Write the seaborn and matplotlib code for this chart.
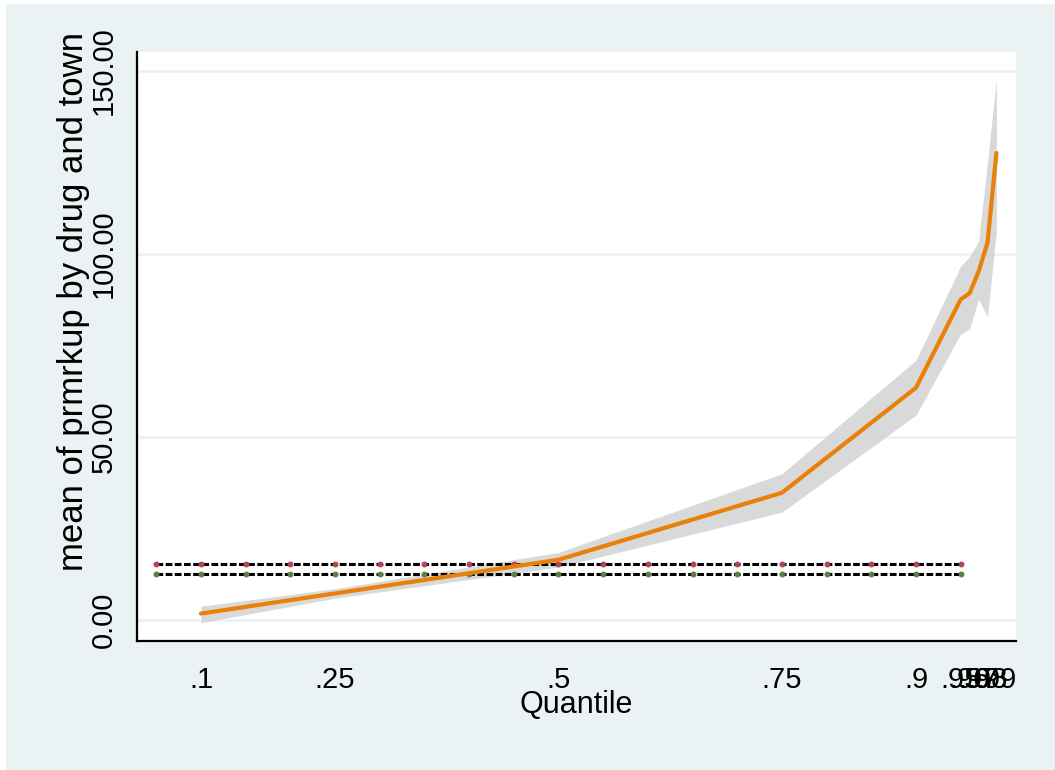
import matplotlib
matplotlib.use("Agg")
import matplotlib.pyplot as plt
from matplotlib.patches import Rectangle
import seaborn as sns
import pandas as pd

# quantile regression coefficients
quantiles = [0.10, 0.25, 0.50, 0.75, 0.90, 0.95, 0.96, 0.97, 0.98, 0.99]
coef = [1.8, 7.3, 16.5, 34.8, 63.5, 87.6, 89.3, 95.2, 103.1, 127.6]
ci_low = [-0.7, 6.0, 14.5, 29.5, 56.0, 78.2, 79.5, 87.7, 82.8, 106.5]
ci_high = [3.8, 8.6, 18.5, 40.0, 71.0, 96.7, 99.3, 103.5, 125.0, 148.0]
tick_labels = [".1", ".25", ".5", ".75", ".9", ".95", ".96", ".97", ".98", ".99"]

# horizontal reference lines, marked every .05
ref_q = [0.05, 0.10, 0.15, 0.20, 0.25, 0.30, 0.35, 0.40, 0.45, 0.50,
         0.55, 0.60, 0.65, 0.70, 0.75, 0.80, 0.85, 0.90, 0.95]
ref_upper = 15.4
ref_lower = 12.5

bg = "#EAF2F3"
orange = "#E8800A"

sns.set_theme(style="white")
plt.rcParams['font.family'] = ['Liberation Sans', 'DejaVu Sans']

fig = plt.figure(figsize=(10.55, 7.7), dpi=100, facecolor="white")
fig.patches.append(Rectangle((6 / 1055, 0), 1, 1 - 4 / 770, transform=fig.transFigure,
                             facecolor=bg, edgecolor="none", zorder=-10))
ax = fig.add_axes([137 / 1055, 1 - 641 / 770, (1016 - 137) / 1055, (641 - 52) / 770])
ax.set_facecolor("white")

df = pd.DataFrame({"q": quantiles, "coef": coef, "lo": ci_low, "hi": ci_high})

for y in [0, 50, 100, 150]:
    ax.axhline(y, color=bg, lw=2, zorder=0)

ax.fill_between(df["q"], df["lo"], df["hi"], color="#D3D3D3", alpha=0.85, lw=0, zorder=1)

ref = pd.DataFrame({"q": ref_q, "up": [ref_upper] * len(ref_q), "low": [ref_lower] * len(ref_q)})
sns.lineplot(data=ref, x="q", y="up", ax=ax, color="black", lw=2.2, linestyle=(0, (2.2, 0.8)),
             marker="o", markersize=3.5, markerfacecolor="#B04650", markeredgecolor="#B04650", zorder=2)
sns.lineplot(data=ref, x="q", y="low", ax=ax, color="black", lw=2.2, linestyle=(0, (2.2, 0.8)),
             marker="o", markersize=3.5, markerfacecolor="#5E7F3C", markeredgecolor="#5E7F3C", zorder=2)

sns.lineplot(data=df, x="q", y="coef", ax=ax, color=orange, lw=3, zorder=3)

ax.set_xlim(0.0284, 1.0119)
ax.set_ylim(-5.7, 155.2)
ax.set_xticks(quantiles)
ax.set_xticklabels(tick_labels)
ax.set_yticks([0, 50, 100, 150])
ax.set_yticklabels(["0.00", "50.00", "100.00", "150.00"], rotation=90, va="center")

for s in ["top", "right"]:
    ax.spines[s].set_visible(False)
for s in ["left", "bottom"]:
    ax.spines[s].set_color("black")
    ax.spines[s].set_linewidth(1.6)

ax.tick_params(axis="both", direction="out", length=11, width=1.6, color="black",
               labelsize=21, labelcolor="black")
ax.tick_params(axis="x", pad=7)
ax.tick_params(axis="y", pad=3)

ax.set_xlabel("Quantile", fontsize=22, color="black", labelpad=-3)
ax.set_ylabel("mean of prmrkup by drug and town", fontsize=25, color="black")
ax.yaxis.set_label_coords(-0.053, 0.5756)

fig.savefig("out.png", dpi=100, facecolor=fig.get_facecolor())
